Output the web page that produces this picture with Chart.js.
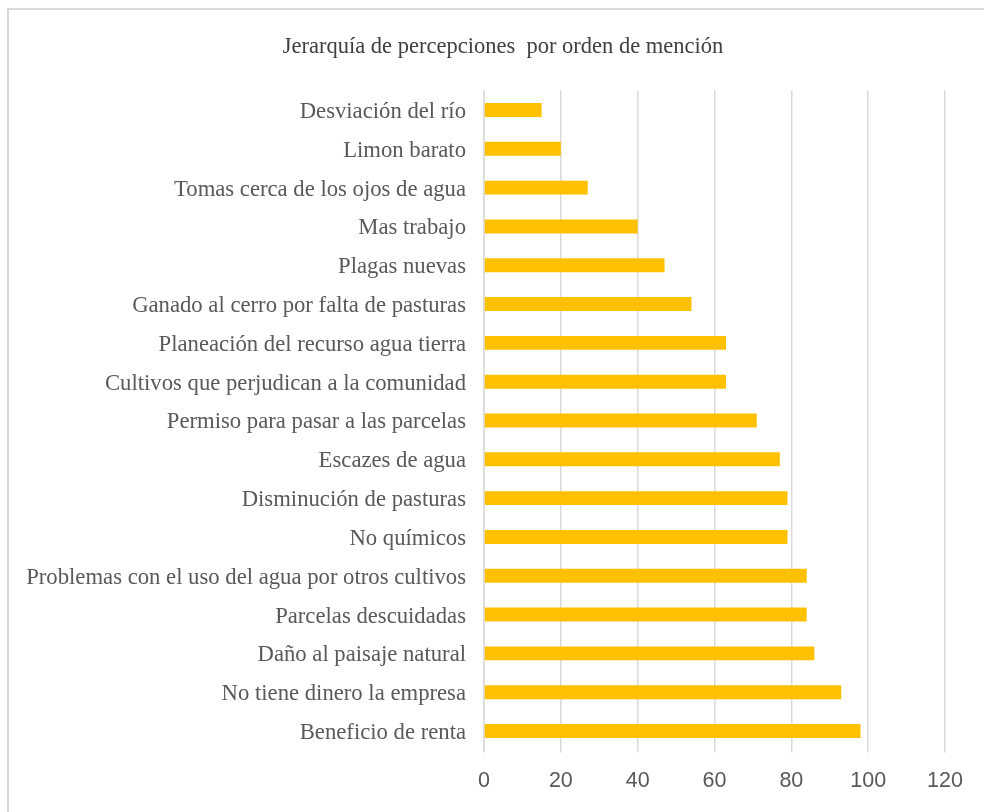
<!DOCTYPE html>
<html>
<head>
<meta charset="utf-8">
<script src="https://cdn.jsdelivr.net/npm/chart.js@4"></script>
<style>
  html, body { margin: 0; padding: 0; background: #fff; overflow: hidden; }
  #frame {
    position: absolute; left: 7px; top: 8px; width: 1100px; height: 900px;
    border: 2px solid #d9d9d9; box-sizing: border-box;
  }
  #wrap { position: absolute; left: 0; top: 0; width: 984px; height: 812px; }
</style>
</head>
<body>
<div id="frame"></div>
<div id="wrap"><canvas id="perceptionChart"></canvas></div>
<script>
const chartTitle = "Jerarquía de percepciones  por orden de mención";
const categories = [
  "Desviación del río",
  "Limon barato",
  "Tomas cerca de los ojos de agua",
  "Mas trabajo",
  "Plagas nuevas",
  "Ganado al cerro por falta de pasturas",
  "Planeación del recurso agua tierra",
  "Cultivos que perjudican a la comunidad",
  "Permiso para pasar a las parcelas",
  "Escazes de agua",
  "Disminución de pasturas",
  "No químicos",
  "Problemas con el uso del agua por otros cultivos",
  "Parcelas descuidadas",
  "Daño al paisaje natural",
  "No tiene dinero la empresa",
  "Beneficio de renta"
];
const mentions = [15, 20, 27, 40, 47, 54, 63, 63, 71, 77, 79, 79, 84, 84, 86, 93, 98];
const xTicks = [0, 20, 40, 60, 80, 100, 120];

// title is centred over the frame, not over the canvas, so draw it by hand
const titlePlugin = {
  id: "frameTitle",
  afterDraw(chart) {
    const c = chart.ctx;
    c.save();
    c.font = "22.5px 'Liberation Serif', 'DejaVu Serif', serif";
    c.fillStyle = "#404040";
    c.textAlign = "center";
    c.textBaseline = "middle";
    c.fillText(chartTitle, 503, 47);
    c.restore();
  }
};

const ctx = document.getElementById("perceptionChart").getContext("2d");

new Chart(ctx, {
  type: "bar",
  data: {
    labels: categories,
    datasets: [{
      label: "Menciones",
      data: mentions,
      backgroundColor: "#ffc000",
      borderWidth: 0,
      categoryPercentage: 1,
      barPercentage: 0.36
    }]
  },
  plugins: [titlePlugin],
  options: {
    indexAxis: "y",
    responsive: true,
    maintainAspectRatio: false,
    animation: false,
    layout: { padding: { left: 0, right: 39, top: 90.6, bottom: 0 } },
    plugins: {
      legend: { display: false },
      tooltip: { enabled: false },
      title: { display: false }
    },
    scales: {
      x: {
        min: 0,
        max: 120,
        afterBuildTicks: (scale) => { scale.ticks = xTicks.map(v => ({ value: v })); },
        afterFit: (scale) => { scale.height = 61.6; },
        grid: { color: "#d9d9d9", lineWidth: 1.5, tickLength: 2, drawTicks: true },
        border: { display: false },
        ticks: {
          color: "#595959",
          padding: 16,
          font: { family: "'Liberation Sans', 'Open Sans', sans-serif", size: 21.5 }
        }
      },
      y: {
        afterFit: (scale) => { scale.width = 484; },
        grid: { display: false },
        border: { display: true, color: "#d9d9d9", width: 1.5 },
        ticks: {
          color: "#595959",
          padding: 10,
          labelOffset: 2,
          autoSkip: false,
          font: { family: "'Liberation Serif', 'DejaVu Serif', serif", size: 22.7 }
        }
      }
    }
  }
});
</script>
</body>
</html>
